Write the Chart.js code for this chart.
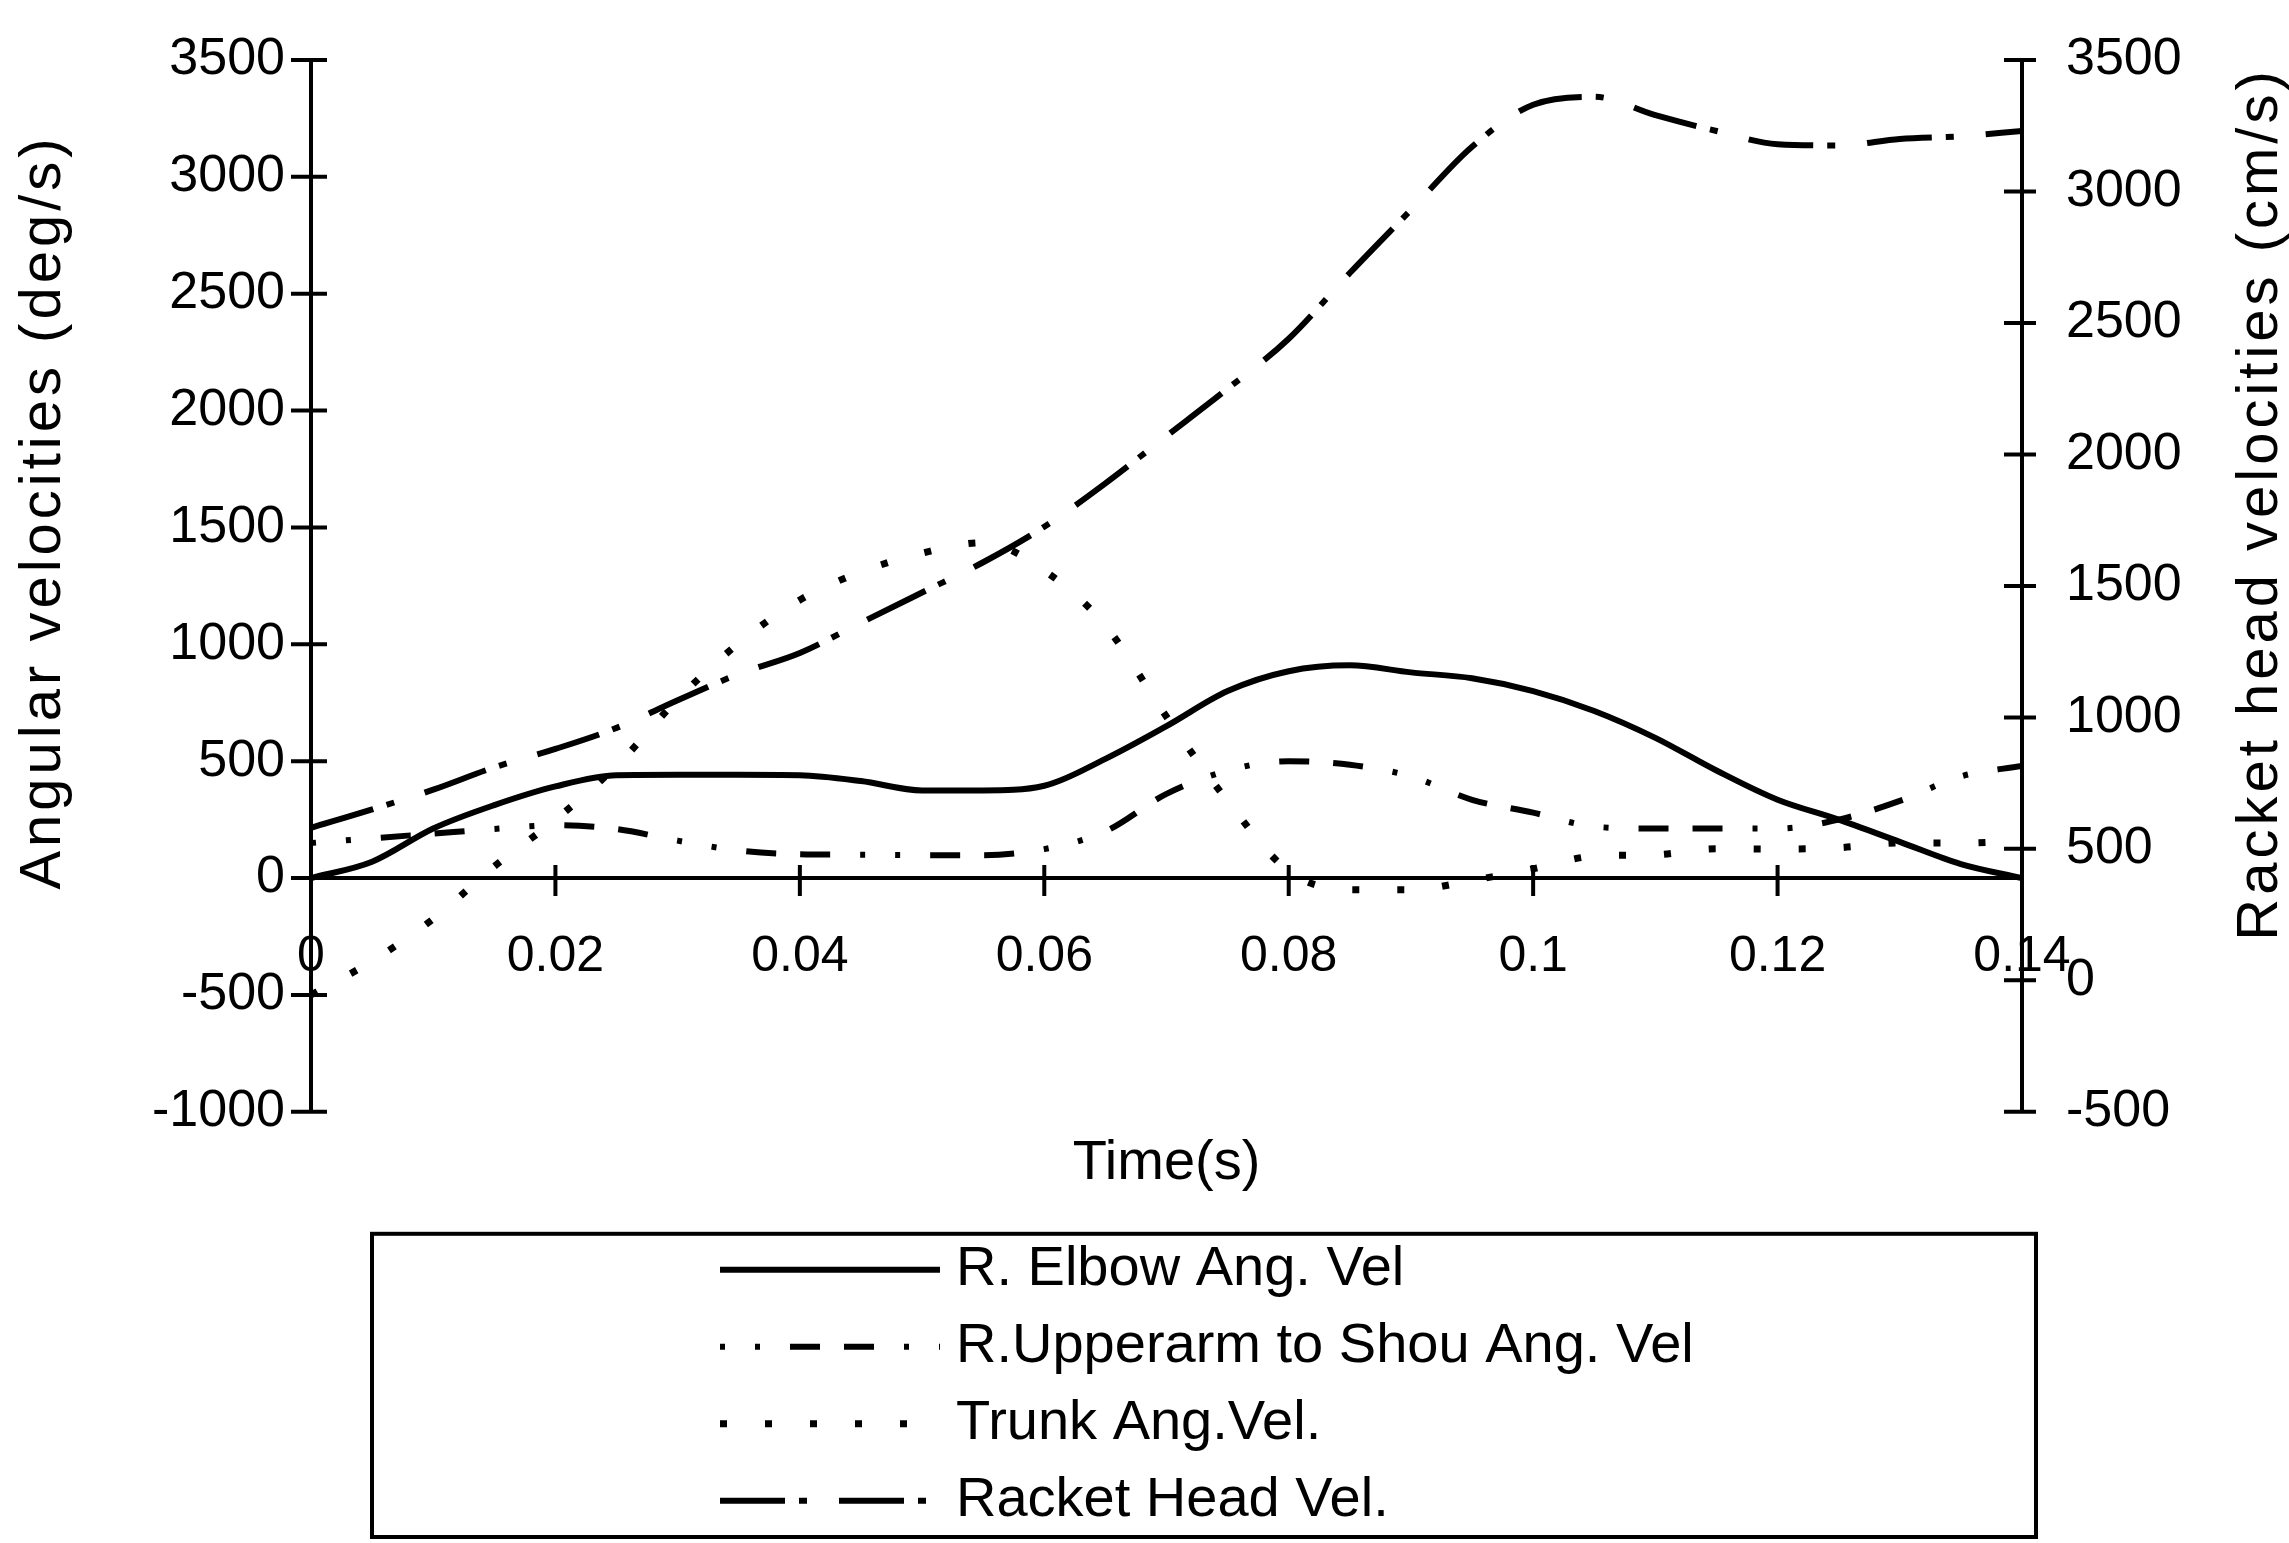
<!DOCTYPE html>
<html>
<head>
<meta charset="utf-8">
<title>Angular and racket head velocities</title>
<script src="https://cdn.jsdelivr.net/npm/chart.js@4.4.1/dist/chart.umd.min.js"></script>
<style>
  html, body { margin: 0; padding: 0; background: #fff; overflow: hidden; }
  canvas { display: block; }
</style>
</head>
<body>
<canvas id="velChart" width="2289" height="1543"></canvas>
<script>
// sample times (s)
var time = [0, 0.005, 0.01, 0.015, 0.02, 0.025, 0.03, 0.035, 0.04, 0.045,
            0.05, 0.055, 0.06, 0.065, 0.07, 0.075, 0.08, 0.085, 0.09, 0.095,
            0.1, 0.105, 0.11, 0.115, 0.12, 0.125, 0.13, 0.135, 0.14];

// angular velocities (deg/s), left axis
var elbowVel = [0, 70, 212, 312, 392, 440, 442, 442, 440, 415,
                375, 375, 395, 510, 650, 800, 885, 910, 880, 855,
                800, 715, 600, 460, 335, 250, 155, 60, 0];
var upperarmVel = [150, 170, 190, 210, 226, 210, 160, 118, 102, 100,
                   98, 98, 124, 200, 360, 460, 500, 485, 435, 335,
                   280, 220, 212, 212, 212, 250, 330, 435, 480];
var trunkVel = [-500, -355, -175, 50, 250, 480, 765, 1005, 1190, 1310,
                1390, 1435, 1315, 1080, 690, 330, 30, -50, -50, -10,
                40, 94, 100, 125, 124, 130, 150, 150, 160];

// racket head velocity (cm/s), right axis
var racketVel = [580, 650, 725, 810, 880, 960, 1065, 1165, 1245, 1360,
                 1475, 1590, 1725, 1890, 2070, 2250, 2440, 2690, 2930, 3170,
                 3330, 3360, 3290, 3230, 3180, 3175, 3200, 3210, 3230];

var seriesNames = ['R. Elbow Ang. Vel', 'R.Upperarm to Shou Ang. Vel', 'Trunk Ang.Vel.', 'Racket Head Vel.'];
var leftTitle = 'Angular velocities (deg/s)';
var rightTitle = 'Racket head velocities (cm/s)';

var timeTicks = [0, 0.02, 0.04, 0.06, 0.08, 0.1, 0.12, 0.14];
var angTicks = [-1000, -500, 0, 500, 1000, 1500, 2000, 2500, 3000, 3500];
var racketTicks = [-500, 0, 500, 1000, 1500, 2000, 2500, 3000, 3500];

var FONT = '"Liberation Sans", Arial, sans-serif';
Chart.defaults.font.family = FONT;
Chart.defaults.color = '#000';

function points(values) {
  return time.map(function (t, i) { return { x: t, y: values[i] }; });
}

function fixedTicks(list) {
  return function (scale) {
    scale.ticks = list.map(function (v) { return { value: v }; });
  };
}

function plainLabel(v) { return String(v); }

// the library's own tick marks only set the label offset; the visible ones are drawn below
function spacerGrid(len) {
  return { drawOnChartArea: false, drawTicks: true, tickLength: len, tickColor: 'rgba(0,0,0,0)' };
}

// tick marks that cross the axis lines
var crossTicks = {
  id: 'crossTicks',
  afterDatasetsDraw: function (chart) {
    var ctx = chart.ctx, area = chart.chartArea;
    var sx = chart.scales.x, sy = chart.scales.y, sy1 = chart.scales.y1;
    var zero = sy.getPixelForValue(0);
    ctx.save();
    ctx.strokeStyle = '#000';
    ctx.lineWidth = 4;
    ctx.beginPath();
    angTicks.forEach(function (v) {
      var y = sy.getPixelForValue(v);
      ctx.moveTo(area.left - 20, y);
      ctx.lineTo(area.left + 16, y);
    });
    racketTicks.forEach(function (v) {
      var y = sy1.getPixelForValue(v);
      ctx.moveTo(area.right - 18, y);
      ctx.lineTo(area.right + 14, y);
    });
    timeTicks.forEach(function (v) {
      var x = sx.getPixelForValue(v);
      ctx.moveTo(x, zero - 13);
      ctx.lineTo(x, zero + 18);
    });
    ctx.stroke();
    ctx.restore();
  }
};

// both y titles read bottom-to-top, spaced out a little
var sideTitles = {
  id: 'sideTitles',
  afterDraw: function (chart) {
    var ctx = chart.ctx, area = chart.chartArea;
    function vertical(text, x, y) {
      ctx.save();
      ctx.translate(x, y);
      ctx.rotate(-Math.PI / 2);
      ctx.fillText(text, 0, 0);
      ctx.restore();
    }
    ctx.save();
    ctx.fillStyle = '#000';
    ctx.font = '58px ' + FONT;
    ctx.letterSpacing = '4px';
    ctx.textAlign = 'center';
    ctx.textBaseline = 'middle';
    vertical(leftTitle, 44, area.top + 452);
    vertical(rightTitle, chart.width - 28, area.top + 444);
    ctx.restore();
  }
};

// boxed legend, one row per series, under the time title
var boxLegend = {
  id: 'boxLegend',
  afterDraw: function (chart) {
    var ctx = chart.ctx, area = chart.chartArea;
    var left = area.left + 61, right = area.right + 14;
    var top = area.bottom + 122, bottom = chart.height - 6;
    ctx.save();
    ctx.strokeStyle = '#000';
    ctx.fillStyle = '#000';
    ctx.lineWidth = 4;
    ctx.strokeRect(left, top, right - left, bottom - top);
    ctx.font = '56px ' + FONT;
    ctx.textBaseline = 'middle';
    ctx.textAlign = 'left';
    chart.data.datasets.forEach(function (ds, i) {
      var y = top + 36 + i * 77;
      ctx.lineWidth = ds.borderWidth;
      ctx.setLineDash(ds.borderDash || []);
      ctx.beginPath();
      ctx.moveTo(left + 348, y);
      ctx.lineTo(left + 568, y);
      ctx.stroke();
      ctx.setLineDash([]);
      ctx.fillText(ds.label, left + 584, y);
    });
    ctx.restore();
  }
};

function lineSet(label, values, axis, width, dash) {
  return {
    label: label,
    data: points(values),
    yAxisID: axis,
    borderColor: '#000',
    backgroundColor: '#000',
    borderWidth: width,
    borderDash: dash,
    pointRadius: 0,
    fill: false,
    cubicInterpolationMode: 'monotone'
  };
}

new Chart(document.getElementById('velChart'), {
  type: 'line',
  data: {
    datasets: [
      lineSet(seriesNames[0], elbowVel, 'y', 6, []),
      lineSet(seriesNames[1], upperarmVel, 'y', 6, [5, 30, 5, 30, 30, 24, 30, 30]),
      lineSet(seriesNames[2], trunkVel, 'y', 7, [7, 38]),
      lineSet(seriesNames[3], racketVel, 'y1', 6, [65, 14, 8, 32])
    ]
  },
  options: {
    responsive: false,
    animation: false,
    layout: { padding: { top: 60, bottom: 346, left: 0, right: 0 } },
    plugins: {
      legend: { display: false },
      tooltip: { enabled: false },
      title: {
        display: true,
        position: 'bottom',
        fullSize: false,
        text: 'Time(s)',
        color: '#000',
        font: { size: 56, weight: 'normal' },
        padding: { top: 18, bottom: 0 }
      }
    },
    scales: {
      x: {
        type: 'linear',
        min: 0,
        max: 0.14,
        position: { y: 0 },
        afterBuildTicks: fixedTicks(timeTicks),
        ticks: {
          font: { size: 50 },
          padding: 49,
          maxRotation: 0,
          autoSkip: false,
          callback: plainLabel
        },
        grid: { drawOnChartArea: false, drawTicks: false },
        border: { color: '#000', width: 4 }
      },
      y: {
        position: 'left',
        min: -1000,
        max: 3500,
        afterBuildTicks: fixedTicks(angTicks),
        afterFit: function (s) { s.width = 311; },
        ticks: { font: { size: 52 }, padding: 4, autoSkip: false, callback: plainLabel },
        grid: spacerGrid(22),
        border: { color: '#000', width: 4 }
      },
      y1: {
        position: 'right',
        min: -500,
        max: 3500,
        afterBuildTicks: fixedTicks(racketTicks),
        afterFit: function (s) { s.width = 267; },
        ticks: { font: { size: 52 }, padding: 4, autoSkip: false, callback: plainLabel },
        grid: spacerGrid(40),
        border: { color: '#000', width: 4 }
      }
    }
  },
  plugins: [crossTicks, sideTitles, boxLegend]
});
</script>
</body>
</html>
